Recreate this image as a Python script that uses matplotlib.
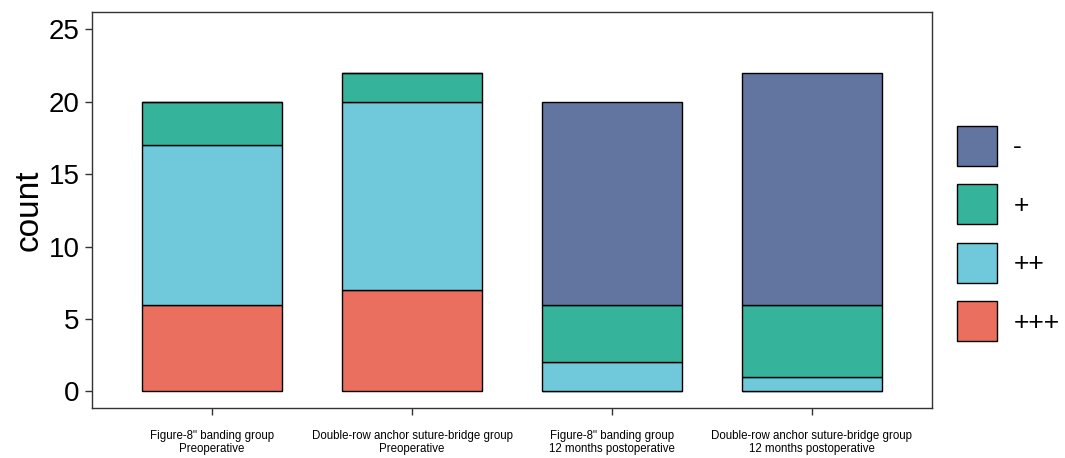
import matplotlib.pyplot as plt
import numpy as np

plt.rcParams['font.family'] = ['Liberation Sans', 'DejaVu Sans']

groups = ['Figure-8" banding group\nPreoperative',
          'Double-row anchor suture-bridge group\nPreoperative',
          'Figure-8" banding group\n12 months postoperative',
          'Double-row anchor suture-bridge group\n12 months postoperative']
grades = ['+++', '++', '+', '-']
counts = {
    '+++': [6, 7, 0, 0],
    '++':  [11, 13, 2, 1],
    '+':   [3, 2, 4, 5],
    '-':   [0, 0, 14, 16],
}
colors = {'-': '#6175A0', '+': '#35B39B', '++': '#70C8DB', '+++': '#EB6F5E'}

fig = plt.figure(figsize=(10.65, 4.58), dpi=100)
ax = fig.add_axes([0.0864, 0.109, 0.7887, 0.865])

x = np.arange(1, len(groups) + 1)
bottom = np.zeros(len(groups))
handles = {}
for g in grades:
    vals = np.array(counts[g], dtype=float)
    bars = ax.bar(x, vals, width=0.7, bottom=bottom, color=colors[g],
                  edgecolor='black', linewidth=1.0, label=g)
    handles[g] = bars
    bottom += vals

ax.set_xlim(0.4, 4.6)
ax.set_ylim(-1.15, 26.2)
ax.set_yticks([0, 5, 10, 15, 20, 25])
ax.set_xticks(x)
ax.set_xticklabels(groups, fontsize=8.3, linespacing=1.05)
ax.tick_params(axis='y', labelsize=20, length=5, width=1, color='#333333', pad=4)
ax.tick_params(axis='x', length=5, width=1, color='#333333', pad=11)
ax.set_ylabel('count', fontsize=24, labelpad=3)
for s in ax.spines.values():
    s.set_color('#333333')
    s.set_linewidth(1.0)

# legend keys sit right of the panel, centred a little below the panel middle
order = ['-', '+', '++', '+++']
ax.legend([handles[g] for g in order], order, loc='center left',
          bbox_to_anchor=(0.889, 0.49), bbox_transform=fig.transFigure,
          borderaxespad=0, frameon=False, fontsize=19,
          handlelength=1.52, handleheight=1.96, labelspacing=0.7,
          handletextpad=0.6)

fig.savefig('out.png', dpi=100)
